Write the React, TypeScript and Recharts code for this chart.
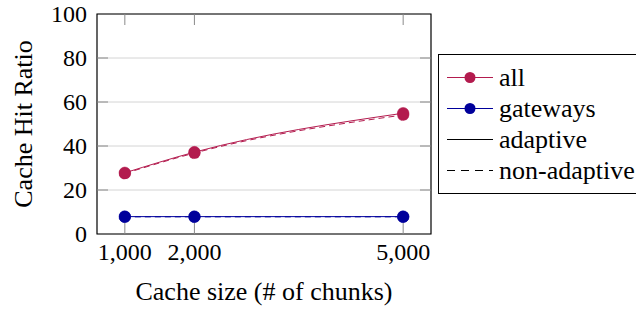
import React from 'react';
import { LineChart, Line, XAxis, YAxis, CartesianGrid, ReferenceArea } from 'recharts';

const cacheSizes = [1000, 2000, 5000];
const allAdaptive = [27.8, 37.2, 54.9];
const allNonAdaptive = [27.5, 36.8, 54.1];
const gatewaysAdaptive = [7.9, 7.9, 7.9];
const gatewaysNonAdaptive = [7.8, 7.8, 7.8];
const xTicks = [1000, 2000, 5000];
const yTicks = [0, 20, 40, 60, 80, 100];
const legendItems = [
  { label: 'all', color: '#B31B4E', dashed: false, marker: true },
  { label: 'gateways', color: '#00009B', dashed: false, marker: true },
  { label: 'adaptive', color: '#000000', dashed: false, marker: false },
  { label: 'non-adaptive', color: '#000000', dashed: true, marker: false },
];

const RED = '#B31B4E';
const BLUE = '#00009B';
const W = 636;
const H = 309;
const PLOT_LEFT = 97;
const PLOT_RIGHT = 431;
const PLOT_TOP = 14;
const PLOT_BOTTOM = 234;
const TICK_COLOR = '#8a8a8a';

const data = cacheSizes.map((x, i) => ({
  x,
  allA: allAdaptive[i],
  allN: allNonAdaptive[i],
  gwA: gatewaysAdaptive[i],
  gwN: gatewaysNonAdaptive[i],
}));

const XTick = (props: any) => {
  const { x, y, payload } = props;
  return (
    <g>
      <line x1={x} x2={x} y1={y} y2={y - 11} stroke={TICK_COLOR} strokeWidth={1} />
      <line x1={x} x2={x} y1={PLOT_TOP} y2={PLOT_TOP + 11} stroke={TICK_COLOR} strokeWidth={1} />
      <text className="serif-text" x={x} y={y + 26} textAnchor="middle" fontFamily="Liberation Serif" fontSize={24} fill="#000">
        {Number(payload.value).toLocaleString('en-US')}
      </text>
    </g>
  );
};

const YTick = (props: any) => {
  const { x, y, payload } = props;
  const showMarks = payload.value !== 0 && payload.value !== 100;
  return (
    <g>
      {showMarks && <line x1={x} x2={x + 11} y1={y} y2={y} stroke={TICK_COLOR} strokeWidth={1} />}
      {showMarks && <line x1={PLOT_RIGHT - 11} x2={PLOT_RIGHT} y1={y} y2={y} stroke={TICK_COLOR} strokeWidth={1} />}
      <text className="serif-text" x={x - 10} y={y} dy="0.35em" textAnchor="end" fontFamily="Liberation Serif" fontSize={24} fill="#000">
        {payload.value}
      </text>
    </g>
  );
};

const YLabel = () => {
  const cy = (PLOT_TOP + PLOT_BOTTOM) / 2;
  const cx = 23;
  return (
    <text
      className="serif-text"
      x={cx}
      y={cy}
      transform={`rotate(-90, ${cx}, ${cy})`}
      textAnchor="middle"
      dominantBaseline="central"
      fontFamily="Liberation Serif"
      fontSize={26}
      fill="#000"
    >
      Cache Hit Ratio
    </text>
  );
};

const XLabel = () => {
  const cx = (PLOT_LEFT + PLOT_RIGHT) / 2;
  return (
    <text className="serif-text" x={cx} y={300} textAnchor="middle" fontFamily="Liberation Serif" fontSize={26} fill="#000">
      Cache size (# of chunks)
    </text>
  );
};

const LegendBox = () => (
  <div
    className="serif-text"
    style={{
      position: 'absolute',
      left: 438,
      top: 54,
      border: '1px solid #000',
      background: '#fff',
      width: 210,
      boxSizing: 'border-box',
      padding: '7px 0 7px 0',
      fontSize: 26,
      lineHeight: '31px',
    }}
  >
    {legendItems.map((it) => (
      <div key={it.label} style={{ display: 'flex', alignItems: 'center', height: 31, whiteSpace: 'nowrap' }}>
        <svg width={60} height={31} style={{ display: 'block', flex: 'none' }}>
          <line
            x1={8}
            x2={54}
            y1={15.5}
            y2={15.5}
            stroke={it.color}
            strokeWidth={1}
            strokeDasharray={it.dashed ? '8 6' : undefined}
          />
          {it.marker && <circle cx={31} cy={15.5} r={5.5} fill={it.color} />}
        </svg>
        <span className="serif-text" style={{ color: '#000' }}>{it.label}</span>
      </div>
    ))}
  </div>
);

export default function App() {
  return (
    <div style={{ position: 'absolute', left: 0, top: 0, width: W, height: H, overflow: 'hidden', background: '#fff' }}>
      <style>{`.serif-text { font-family: 'Liberation Serif', 'Times New Roman', Times, serif !important; }`}</style>
      <LineChart width={W} height={H} data={data} margin={{ top: PLOT_TOP, right: W - PLOT_RIGHT, bottom: 0, left: 0 }}>
        <CartesianGrid horizontal vertical={false} stroke="#d4d4d4" strokeWidth={1} />
        <XAxis
          dataKey="x"
          type="number"
          domain={[600, 5400]}
          ticks={xTicks}
          interval={0}
          allowDataOverflow
          height={H - PLOT_BOTTOM}
          tickSize={0}
          tickMargin={0}
          axisLine={false}
          tick={<XTick />}
          label={<XLabel />}
        />
        <YAxis
          type="number"
          domain={[0, 100]}
          ticks={yTicks}
          interval={0}
          width={PLOT_LEFT}
          tickSize={0}
          tickMargin={0}
          axisLine={false}
          tick={<YTick />}
          label={<YLabel />}
        />
        <ReferenceArea x1={600} x2={5400} y1={0} y2={100} fill="none" stroke="#000" strokeWidth={1.2} ifOverflow="visible" />
        <Line dataKey="allN" type="monotone" stroke={RED} strokeWidth={1} strokeDasharray="6 4" dot={{ r: 5.8, fill: RED, stroke: RED, strokeWidth: 0.5 }} isAnimationActive={false} />
        <Line dataKey="allA" type="monotone" stroke={RED} strokeWidth={1} dot={{ r: 5.8, fill: RED, stroke: RED, strokeWidth: 0.5 }} isAnimationActive={false} />
        <Line dataKey="gwN" type="monotone" stroke={BLUE} strokeWidth={1} strokeDasharray="6 4" dot={{ r: 5.8, fill: BLUE, stroke: BLUE, strokeWidth: 0.5 }} isAnimationActive={false} />
        <Line dataKey="gwA" type="monotone" stroke={BLUE} strokeWidth={1} dot={{ r: 5.8, fill: BLUE, stroke: BLUE, strokeWidth: 0.5 }} isAnimationActive={false} />
      </LineChart>
      <LegendBox />
    </div>
  );
}
